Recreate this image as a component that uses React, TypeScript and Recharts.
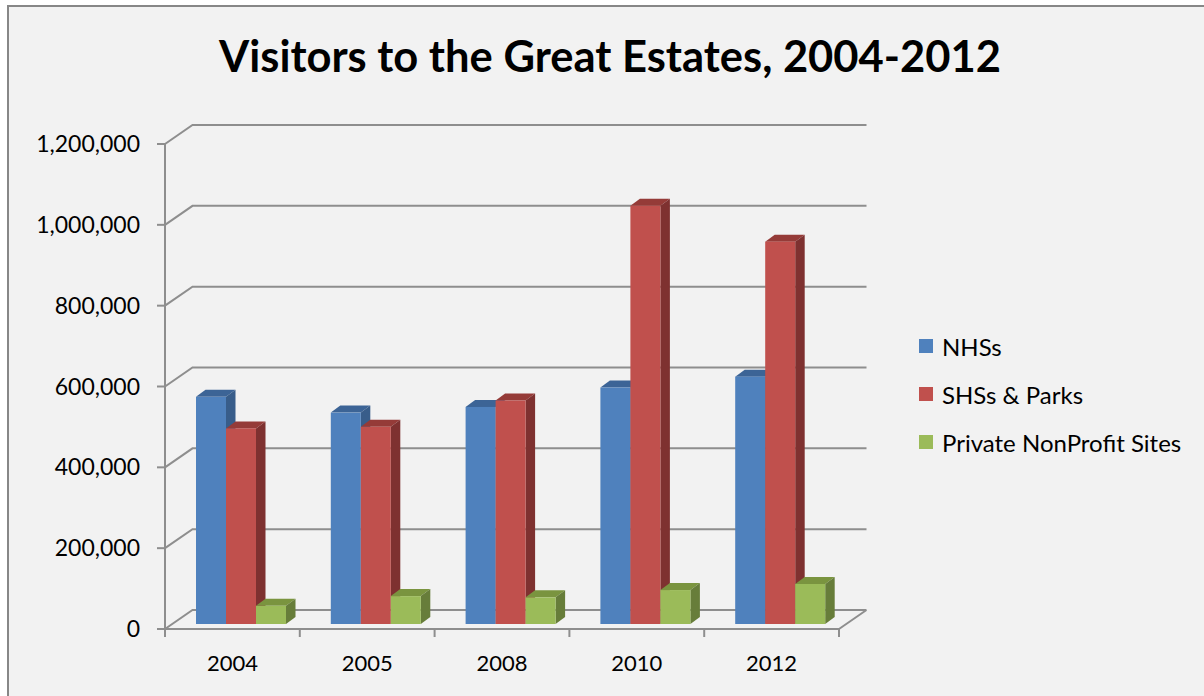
import React from "react";
import { BarChart, Bar, XAxis, YAxis, CartesianGrid } from "recharts";

// data
const years = ["2004", "2005", "2008", "2010", "2012"];
const nhs = [562000, 523000, 537000, 585000, 612000];
const shsParks = [484000, 488000, 553000, 1035000, 946000];
const privateNonProfit = [45000, 69000, 66000, 84000, 99000];
const yTicks = [0, 200000, 400000, 600000, 800000, 1000000, 1200000];

const SERIES = [
  { key: "nhs", name: "NHSs", front: "#4f81bd", top: "#3c6496", side: "#385d8a" },
  { key: "shs", name: "SHSs & Parks", front: "#c0504d", top: "#953b38", side: "#7e3130" },
  { key: "priv", name: "Private NonProfit Sites", front: "#9bbb59", top: "#7a943f", side: "#677d3a" },
];

const data = years.map((year, i) => ({
  year,
  nhs: nhs[i],
  shs: shsParks[i],
  priv: privateNonProfit[i],
}));

const W = 1204;
const H = 696;
const X_AXIS_H = 67;
const MARGIN = { top: 144, right: 365, bottom: 0, left: 0 };
const PLOT_BOTTOM = H - MARGIN.bottom - X_AXIS_H;
const FONT = "Lato, 'Open Sans', sans-serif";
const GRID = "#8e8e8e";

// depth of the floor / back wall, and where the bars sit inside it
const WALL_DX = 27.5;
const WALL_DY = -19;
const BAR_SHIFT_X = 9;
const BAR_SHIFT_Y = -5;
const BOX_DX = 9.5;
const BOX_DY = -7;

const fmt = (v: number) => v.toLocaleString("en-US");

function Box3D(props: any) {
  const { x, y, width, height, colors } = props;
  if (width == null || height == null) return null;
  const fx = x + BAR_SHIFT_X;
  const fy = y + BAR_SHIFT_Y;
  const r = fx + width;
  const b = fy + height;
  return (
    <g>
      <polygon
        points={`${fx},${fy} ${r},${fy} ${r + BOX_DX},${fy + BOX_DY} ${fx + BOX_DX},${fy + BOX_DY}`}
        fill={colors.top}
      />
      <polygon
        points={`${r},${fy} ${r + BOX_DX},${fy + BOX_DY} ${r + BOX_DX},${b + BOX_DY} ${r},${b}`}
        fill={colors.side}
      />
      <rect x={fx} y={fy} width={width} height={height} fill={colors.front} />
    </g>
  );
}

function GridLine(props: any) {
  const { x1, x2, y1 } = props;
  let d = `M${x1},${y1} L${x1 + WALL_DX},${y1 + WALL_DY} L${x2 + WALL_DX},${y1 + WALL_DY}`;
  if (Math.abs(y1 - PLOT_BOTTOM) < 0.5) {
    d += ` M${x2},${y1} L${x2 + WALL_DX},${y1 + WALL_DY}`;
  }
  return <path key={props.key} d={d} stroke={GRID} strokeWidth={2} fill="none" />;
}

function YearTick(props: any) {
  const { x, payload, index } = props;
  const half = payload.offset || 0;
  const axisY = PLOT_BOTTOM;
  return (
    <g>
      <line x1={x + half} x2={x + half} y1={axisY} y2={axisY + 8} stroke={GRID} strokeWidth={2} />
      {index === 0 && (
        <line x1={x - half} x2={x - half} y1={axisY} y2={axisY + 8} stroke={GRID} strokeWidth={2} />
      )}
      <text x={x} y={axisY + 42} textAnchor="middle" fontFamily={FONT} fontSize={22} fill="#000">
        {payload.value}
      </text>
    </g>
  );
}

export default function App() {
  return (
    <div
      style={{
        position: "absolute",
        left: 0,
        top: 0,
        width: W,
        height: H,
        overflow: "hidden",
        background: "#fff",
      }}
    >
      <div
        style={{
          position: "absolute",
          left: 7,
          top: 5,
          width: W + 20,
          height: H + 20,
          border: "2px solid #878787",
          background: "#f2f2f2",
        }}
      />
      <div
        style={{
          position: "absolute",
          left: 0,
          top: 27,
          width: 1220,
          textAlign: "center",
          fontFamily: FONT,
          fontWeight: 700,
          fontSize: 43.5,
          color: "#000",
          lineHeight: "56px",
        }}
      >
        Visitors to the Great Estates, 2004-2012
      </div>

      <div style={{ position: "absolute", left: 0, top: 0 }}>
        <BarChart width={W} height={H} data={data} margin={MARGIN} barSize={30} barGap={0}>
          <CartesianGrid vertical={false} horizontal={(p: any) => <GridLine {...p} />} />
          <XAxis
            dataKey="year"
            height={X_AXIS_H}
            axisLine={{ stroke: GRID, strokeWidth: 2 }}
            tickLine={false}
            tick={<YearTick />}
            interval={0}
          />
          <YAxis
            width={165}
            domain={[0, 1200000]}
            ticks={yTicks}
            interval={0}
            tickFormatter={fmt}
            axisLine={{ stroke: GRID, strokeWidth: 2 }}
            tickLine={{ stroke: GRID, strokeWidth: 2 }}
            tickSize={8}
            tickMargin={17}
            tick={{ fontFamily: FONT, fontSize: 23, fill: "#000" }}
          />
          {SERIES.map((s) => (
            <Bar
              key={s.key}
              dataKey={s.key}
              name={s.name}
              isAnimationActive={false}
              shape={(p: any) => <Box3D {...p} colors={s} />}
            />
          ))}
        </BarChart>
      </div>

      <div style={{ position: "absolute", left: 919, top: 322, fontFamily: FONT, fontSize: 24, color: "#000" }}>
        {SERIES.map((s) => (
          <div key={s.key} style={{ display: "flex", alignItems: "center", height: 48 }}>
            <span style={{ width: 14, height: 14, background: s.front, marginRight: 9, display: "inline-block" }} />
            <span>{s.name}</span>
          </div>
        ))}
      </div>
    </div>
  );
}
